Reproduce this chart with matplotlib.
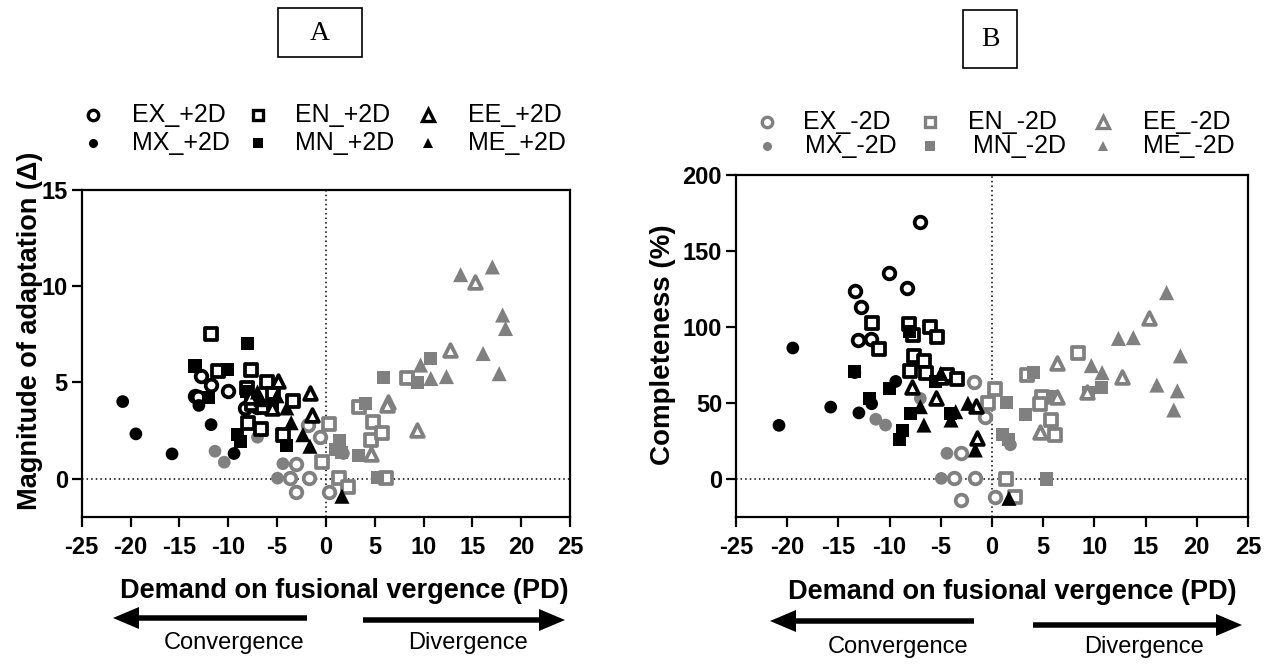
import matplotlib
matplotlib.use("Agg")
import matplotlib.pyplot as plt
from matplotlib import font_manager
from matplotlib.lines import Line2D
from matplotlib.patches import Rectangle, FancyArrow

plt.rcParams['font.family'] = ['Liberation Sans', 'DejaVu Sans']

_names = {f.name for f in font_manager.fontManager.ttflist}
if 'Liberation Sans Narrow' in _names:
    TICK_FAMILY = ['Liberation Sans Narrow', 'DejaVu Sans']
    TICK_SIZE = 19.5
else:
    TICK_FAMILY = ['Liberation Sans', 'DejaVu Sans']
    TICK_SIZE = 17

# ---------------- data ----------------
# +2D series (black):  x = demand (PD), mag = magnitude of adaptation, comp = completeness (%)
EX_P_x = [-7.04, -10.05, -8.3, -13.4, -12.75, -13.1, -11.8]
EX_P_mag = [3.7, 4.53, 3.67, 4.3, 5.31, 4.25, 4.88]
EX_P_comp = [169.3, 135.3, 125.9, 123.7, 113.4, 91.4, 92.1]

MX_P_x = [-20.8, -19.45, -15.75, -13.4, -13.0, -11.75, -9.4]
MX_P_mag = [4.0, 2.32, 1.28, 5.8, 3.8, 2.8, 1.3]
MX_P_comp = [35.3, 86.2, 47.3, 70.0, 43.5, 49.5, 64.2]

EN_P_x = [-11.75, -11.0, -8.1, -7.7, -6.05, -5.4, -7.6, -6.65, -8.0, -6.4, -4.4, -3.4]
EN_P_mag = [7.51, 5.57, 4.71, 5.62, 5.02, 4.4, 3.9, 2.58, 2.89, 3.72, 2.28, 4.01]
EN_P_comp = [102.9, 85.3, 101.7, 94.7, 100.2, 93.6, 80.9, 77.6, 71.3, 70.0, 68.6, 66.0]

MN_P_x = [-13.4, -12.0, -10.05, -8.7, -9.05, -8.0, -4.05, -5.5, -8.1]
MN_P_mag = [5.85, 4.19, 5.66, 1.9, 2.3, 7.04, 1.72, 3.9, 4.5]
MN_P_comp = [70.6, 53.1, 59.7, 31.8, 25.7, 43.2, 43.2, 64.0, 97.0]

EE_P_x = [-7.8, -5.5, -4.95, -1.6, -1.45]
EE_P_mag = [4.23, 3.67, 5.05, 4.45, 3.3]
EE_P_comp = [60.3, 53.0, 67.3, 48.0, 26.8]

ME_P_x = [-7.0, -6.65, -4.0, -3.55, -2.35, -1.63, 1.65, -5.0]
ME_P_mag = [4.5, 4.1, 3.67, 2.9, 2.28, 1.68, -0.92, 4.3]
ME_P_comp = [47.6, 35.5, 38.8, 44.3, 49.8, 19.1, -12.7, 69.5]

# -2D series (grey)
EX_M_x = [-1.8, -0.65, -3.05, -3.72, -1.7, -3.05, 0.3]
EX_M_mag = [2.77, 2.15, 0.77, 0.02, 0.02, -0.68, -0.72]
EX_M_comp = [64.0, 41.0, 16.9, 0.4, 0.4, -13.8, -12.0]

MX_M_x = [-11.35, -10.4, -7.0, -4.4, -4.95, 1.8]
MX_M_mag = [1.42, 0.85, 2.15, 0.77, 0.02, 1.3]
MX_M_comp = [39.3, 35.5, 53.0, 16.9, 0.4, 22.5]

EN_M_x = [8.35, 3.4, 0.33, -0.38, 1.37, 2.25, 4.85, 4.65, 5.75, 6.2]
EN_M_mag = [5.22, 3.7, 2.85, 0.88, 0.03, -0.45, 2.95, 2.0, 2.35, 0.03]
EN_M_comp = [82.7, 68.4, 59.3, 50.2, 0.0, -11.6, 54.0, 49.3, 38.8, 29.0]

MN_M_x = [4.05, 10.7, 9.4, 5.9, 1.37, 3.3, 1.0, 1.6, 5.3]
MN_M_mag = [3.9, 6.26, 5.0, 5.26, 2.0, 1.2, 1.5, 1.35, 0.03]
MN_M_comp = [70.0, 60.0, 57.0, 54.0, 50.4, 42.6, 29.0, 25.7, 0.0]

EE_M_x = [15.3, 12.7, 6.35, 6.3, 9.3, 4.65]
EE_M_mag = [10.2, 6.66, 4.0, 3.8, 2.5, 1.25]
EE_M_comp = [105.7, 67.3, 76.0, 54.0, 57.5, 31.0]

ME_M_x = [13.8, 17.05, 18.1, 18.4, 16.1, 9.7, 10.75, 12.35, 17.75]
ME_M_mag = [10.6, 11.0, 8.5, 7.8, 6.5, 5.9, 5.2, 5.3, 5.45]
ME_M_comp = [93.0, 122.6, 58.0, 81.0, 61.8, 74.6, 70.0, 92.5, 45.4]

x_ticks = [-25, -20, -15, -10, -5, 0, 5, 10, 15, 20, 25]
yA_ticks = [0, 5, 10, 15]
yB_ticks = [0, 50, 100, 150, 200]

BLACK = '#000000'
GREY = '#808080'

# (label, marker, open?, color, x, mag, comp)
grey_series = [
    ('EX_-2D', 'o', True, GREY, EX_M_x, EX_M_mag, EX_M_comp),
    ('MX_-2D', 'o', False, GREY, MX_M_x, MX_M_mag, MX_M_comp),
    ('EN_-2D', 's', True, GREY, EN_M_x, EN_M_mag, EN_M_comp),
    ('MN_-2D', 's', False, GREY, MN_M_x, MN_M_mag, MN_M_comp),
    ('EE_-2D', '^', True, GREY, EE_M_x, EE_M_mag, EE_M_comp),
    ('ME_-2D', '^', False, GREY, ME_M_x, ME_M_mag, ME_M_comp),
]
black_series = [
    ('EX_+2D', 'o', True, BLACK, EX_P_x, EX_P_mag, EX_P_comp),
    ('MX_+2D', 'o', False, BLACK, MX_P_x, MX_P_mag, MX_P_comp),
    ('EN_+2D', 's', True, BLACK, EN_P_x, EN_P_mag, EN_P_comp),
    ('MN_+2D', 's', False, BLACK, MN_P_x, MN_P_mag, MN_P_comp),
    ('EE_+2D', '^', True, BLACK, EE_P_x, EE_P_mag, EE_P_comp),
    ('ME_+2D', '^', False, BLACK, ME_P_x, ME_P_mag, ME_P_comp),
]

SIZES = {('o', True): 70, ('o', False): 84, ('s', True): 74, ('s', False): 88,
         ('^', True): 84, ('^', False): 118}

W, H = 1284, 664
fig = plt.figure(figsize=(W / 100, H / 100), dpi=100)


def fx(px):
    return px / W


def fy(py):
    return 1 - py / H


axA = fig.add_axes([fx(81.7), fy(517), (570 - 81.7) / W, (517 - 190) / H])
axB = fig.add_axes([fx(736), fy(517), (1248 - 736) / W, (517 - 175) / H])


def draw(ax, idx):
    for ser in grey_series + black_series:
        lab, mk, op, col, xs, mag, comp = ser
        ys = mag if idx == 0 else comp
        if op:
            ax.scatter(xs, ys, s=SIZES[(mk, op)], marker=mk, facecolors='white',
                       edgecolors=col, linewidths=2.7, zorder=3)
        else:
            ax.scatter(xs, ys, s=SIZES[(mk, op)], marker=mk, facecolors=col,
                       edgecolors='none', zorder=3)
    ax.axhline(0, color='k', lw=1.1, ls=(0, (1, 2)), zorder=1)
    ax.axvline(0, color='k', lw=1.1, ls=(0, (1, 2)), zorder=1)
    ax.set_xlim(-25, 25)
    ax.set_xticks(x_ticks)
    ax.set_xticklabels([str(t) for t in x_ticks])
    for sp in ax.spines.values():
        sp.set_linewidth(1.6)
    ax.tick_params(axis='both', direction='out', length=7, width=1.6)
    ax.tick_params(axis='x', pad=7)
    ax.tick_params(axis='y', pad=3)


def style_ticklabels(ax):
    for t in ax.get_xticklabels() + ax.get_yticklabels():
        t.set_fontweight('bold')
        t.set_fontfamily(TICK_FAMILY)
        t.set_fontsize(TICK_SIZE)


draw(axA, 0)
axA.set_ylim(-2, 15)
axA.set_yticks(yA_ticks)
axA.set_yticklabels([str(t) for t in yA_ticks])
style_ticklabels(axA)
draw(axB, 1)
axB.set_ylim(-25, 200)
axB.set_yticks(yB_ticks)
axB.set_yticklabels([str(t) for t in yB_ticks])
style_ticklabels(axB)

# axis labels
fig.text(fx(30), fy(331), 'Magnitude of adaptation (Δ)', rotation=90, ha='center',
         va='center', fontsize=19.5, fontweight='bold')
fig.text(fx(663), fy(345), 'Completeness (%)', rotation=90, ha='center',
         va='center', fontsize=20, fontweight='bold')
fig.text(fx(344), fy(591), 'Demand on fusional vergence (PD)', ha='center',
         va='center', fontsize=19.5, fontweight='bold')
fig.text(fx(1012), fy(592), 'Demand on fusional vergence (PD)', ha='center',
         va='center', fontsize=19.5, fontweight='bold')


# legends
def legend(series, mk_x, txt_x, rows):
    order = [(0, 0), (1, 0), (0, 1), (1, 1), (0, 2), (1, 2)]
    for ser, (r, c) in zip(series, order):
        lab, mk, op, col = ser[:4]
        ms = {'o': 7.5, 's': 7, '^': 8}[mk] if op else {'o': 6.5, 's': 6.5, '^': 7.5}[mk]
        ln = Line2D([fx(mk_x[c])], [fy(rows[r])], transform=fig.transFigure,
                    marker=mk, ms=ms, ls='none',
                    mfc='white' if op else col, mec=col, mew=2.4 if op else 0)
        fig.add_artist(ln)
        fig.text(fx(txt_x[r][c]), fy(rows[r]), lab, ha='left', va='center', fontsize=18)


legend(black_series, [93, 258, 428], [[132, 295, 468], [132, 295, 468]], [115, 143])
legend(grey_series, [767, 930, 1103], [[803, 968, 1143], [805, 973, 1143]], [122, 146])

# panel title boxes
for (x0, y0, x1, y1, lab, cy) in [(278, 8, 362, 57, 'A', 34), (963, 10, 1017, 68, 'B', 40)]:
    fig.add_artist(Rectangle((fx(x0), fy(y1)), (x1 - x0) / W, (y1 - y0) / H,
                             transform=fig.transFigure, fill=False, ec='k', lw=1.2))
    fig.text(fx((x0 + x1) / 2), fy(cy), lab, ha='center', va='center', fontsize=20,
             family=['Liberation Serif', 'DejaVu Serif'])


# arrows
def arrow(x_tail, x_tip, y):
    dx = x_tip - x_tail
    fig.add_artist(FancyArrow(fx(x_tail), fy(y), dx / W, 0, width=5.5 / H,
                              head_width=22 / H, head_length=26 / W,
                              length_includes_head=True, transform=fig.transFigure,
                              color='k', lw=0))


arrow(307, 113, 618)
arrow(363, 565, 620)
arrow(974, 770, 621)
arrow(1033, 1242, 625)

for (x, y, t) in [(234, 643, 'Convergence'), (468, 643, 'Divergence'),
                  (898, 647, 'Convergence'), (1144, 647, 'Divergence')]:
    fig.text(fx(x), fy(y), t, ha='center', va='center', fontsize=17)

fig.savefig('out.png', dpi=100)
